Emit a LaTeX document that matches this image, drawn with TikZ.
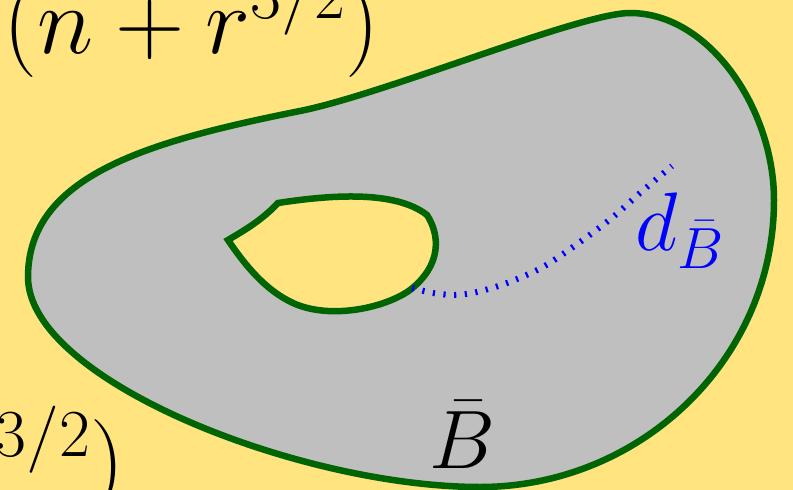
\RequirePackage{fix-cm}
\documentclass[tikz,border=0pt]{standalone}
\definecolor{bgyellow}{RGB}{255,228,128}
\definecolor{dgreen}{RGB}{0,100,0}
\definecolor{regiongray}{RGB}{191,191,191}
\tikzset{
  region/.style={draw=dgreen, line width=6.5pt},
  distline/.style={draw=blue, line width=6pt, dash pattern=on 2.2pt off 8.5pt},
  bigmath/.style={inner sep=0pt, outer sep=0pt, font=\fontsize{96}{115}\selectfont},
  lbl/.style={inner sep=0pt, outer sep=0pt, font=\fontsize{83}{100}\selectfont},
}
\begin{document}
\begin{tikzpicture}[x=1pt,y=-1pt]
\fill[bgyellow] (0,0) rectangle (793,490);
\useasboundingbox (0,0) rectangle (793,490);
% outer region
\path[region, fill=regiongray] (28,277)
  .. controls (28,380) and (300,487) .. (480,487)
  .. controls (640,487) and (774,360) .. (774,200)
  .. controls (774,110) and (710,13) .. (630,13)
  .. controls (580,13) and (385,94) .. (300,111)
  .. controls (150,141) and (28,175) .. (28,277) -- cycle;
% hole
\path[region, fill=bgyellow] (228,240) .. controls (245,230) and (262,220) .. (278,203)
  .. controls (330,195) and (395,190) .. (427,215)
  .. controls (440,235) and (442,265) .. (410,290)
  .. controls (385,308) and (330,320) .. (293,303)
  .. controls (265,290) and (245,265) .. (228,240) -- cycle;
% distance line
\draw[distline] plot[smooth] coordinates {(412,288) (433,293) (455,295) (477,292) (507,283)
  (543,267) (580,242) (613,217) (640,193) (672,166)};
% texts
\node[bigmath, anchor=base east] (costtop) at (379.6,53) {$(n + r^{3/2})$};
\node[bigmath, anchor=base east] (costbot) at (124.6,491) {$(n + r^{3/2})$};
\node[lbl, anchor=base] (Bbar) at (462,468) {$\bar{B}$};
\node[lbl, blue, anchor=base west] (dlabel) at (635,250) {$d_{\bar{B}}$};
\end{tikzpicture}
\end{document}
